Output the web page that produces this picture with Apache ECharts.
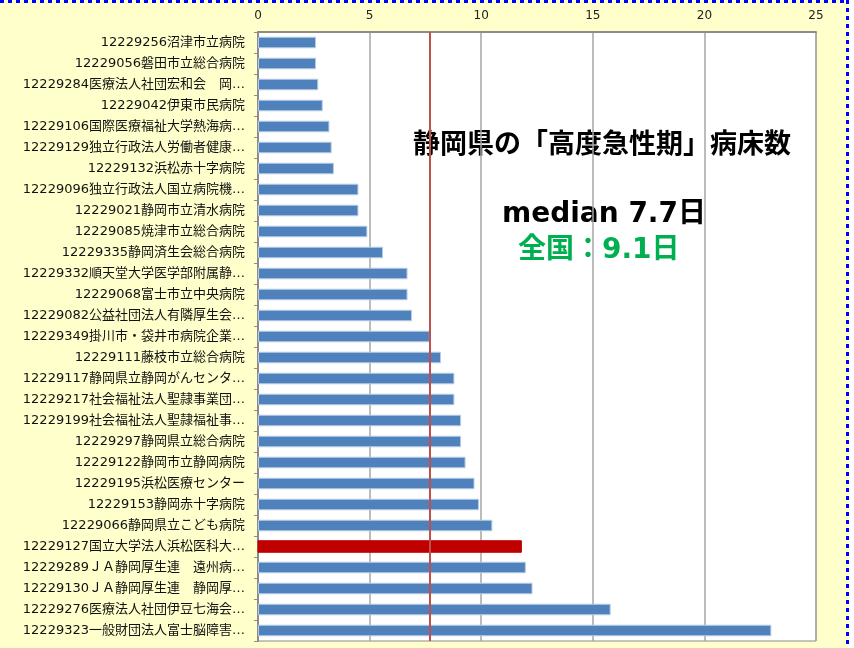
<!DOCTYPE html>
<html>
<head>
<meta charset="utf-8">
<script src="https://cdn.jsdelivr.net/npm/echarts@6/dist/echarts.min.js"></script>
<style>
  html, body { margin: 0; padding: 0; background: #fff; overflow: hidden; }
  #bg { position: absolute; left: 0; top: 0; width: 849px; height: 648px; background: #FFFFCC; }
  #dotTop { position: absolute; left: 0; top: 0; width: 849px; height: 3px;
    background: repeating-linear-gradient(to right, #0000FF 0 4px, transparent 4px 8px); }
  #dotRight { position: absolute; left: 846px; top: 0; width: 3px; height: 648px;
    background: repeating-linear-gradient(to bottom, #0000FF 0 4px, transparent 4px 8px); }
  #chart { position: absolute; left: 0; top: 0; width: 854px; height: 648px; }
</style>
</head>
<body>
<div id="bg"></div>
<div id="dotTop"></div>
<div id="dotRight"></div>
<div id="chart"></div>
<script>
// 病院名（グラフ上から順）
const hospitals = [
  '12229256沼津市立病院',
  '12229056磐田市立総合病院',
  '12229284医療法人社団宏和会　岡…',
  '12229042伊東市民病院',
  '12229106国際医療福祉大学熱海病…',
  '12229129独立行政法人労働者健康…',
  '12229132浜松赤十字病院',
  '12229096独立行政法人国立病院機…',
  '12229021静岡市立清水病院',
  '12229085焼津市立総合病院',
  '12229335静岡済生会総合病院',
  '12229332順天堂大学医学部附属静…',
  '12229068富士市立中央病院',
  '12229082公益社団法人有隣厚生会…',
  '12229349掛川市・袋井市病院企業…',
  '12229111藤枝市立総合病院',
  '12229117静岡県立静岡がんセンタ…',
  '12229217社会福祉法人聖隷事業団…',
  '12229199社会福祉法人聖隷福祉事…',
  '12229297静岡県立総合病院',
  '12229122静岡市立静岡病院',
  '12229195浜松医療センター',
  '12229153静岡赤十字病院',
  '12229066静岡県立こども病院',
  '12229127国立大学法人浜松医科大…',
  '12229289ＪＡ静岡厚生連　遠州病…',
  '12229130ＪＡ静岡厚生連　静岡厚…',
  '12229276医療法人社団伊豆七海会…',
  '12229323一般財団法人富士脳障害…'
]
const days = [
  2.6, 2.6, 2.7, 2.9, 3.2, 3.3, 3.4, 4.5, 4.5, 4.9,
  5.6, 6.7, 6.7, 6.9, 7.7, 8.2, 8.8, 8.8, 9.1, 9.1,
  9.3, 9.7, 9.9, 10.5, 11.8, 12.0, 12.3, 15.8, 23.0
]
const highlightName = '12229127国立大学法人浜松医科大…'
const medianDays = 7.7
const xTicks = [0, 5, 10, 15, 20, 25]

const FONT = '"DejaVu Sans", "Noto Sans CJK JP", sans-serif'
const chart = echarts.init(document.getElementById('chart'), null, { renderer: 'canvas' })

chart.setOption({
  backgroundColor: 'transparent',
  animation: false,
  textStyle: { fontFamily: FONT },
  grid: {
    left: 258, right: 38, top: 32, bottom: 7,
    show: true, backgroundColor: '#fff', borderColor: '#8c8c8c', borderWidth: 1
  },
  xAxis: {
    type: 'value',
    position: 'top',
    min: xTicks[0],
    max: xTicks[xTicks.length - 1],
    interval: 5,
    axisLine: { show: true, lineStyle: { color: '#8c8c8c', width: 2 } },
    axisTick: { show: false },
    axisLabel: { color: '#222', fontSize: 12, margin: 10, fontFamily: FONT },
    splitLine: { show: true, lineStyle: { color: '#a6a6a6', width: 1.5 } }
  },
  yAxis: {
    type: 'category',
    inverse: true,
    data: hospitals,
    axisLine: { show: true, lineStyle: { color: '#8c8c8c', width: 2 } },
    axisTick: { show: true, length: 4, lineStyle: { color: '#8c8c8c' } },
    axisLabel: { color: '#111', fontSize: 13, margin: 13, fontFamily: FONT }
  },
  series: [
    {
      type: 'bar',
      barWidth: '55%',
      data: days.map((v, i) => ({
        value: v,
        itemStyle: hospitals[i] === highlightName
          ? { color: '#C00000', borderColor: '#C00000' }
          : { color: '#4F81BD', borderColor: '#b8cce4', borderWidth: 1 }
      })),
      markLine: {
        silent: true,
        symbol: 'none',
        label: { show: false },
        lineStyle: { color: '#C0504D', width: 2, type: 'solid' },
        data: [{ xAxis: medianDays }]
      }
    }
  ],
  graphic: [
    {
      type: 'text', left: 413, top: 129,
      style: { text: '静岡県の「高度急性期」病床数', font: 'bold 27px "Noto Sans CJK JP"', fill: '#000' }
    },
    {
      type: 'text', left: 502, top: 201,
      style: { text: 'median 7.7日', font: 'bold 28px ' + FONT, fill: '#000' }
    },
    {
      type: 'text', left: 518, top: 237,
      style: { text: '全国：9.1日', font: 'bold 28px ' + FONT, fill: '#00B050' }
    }
  ]
})
</script>
</body>
</html>
